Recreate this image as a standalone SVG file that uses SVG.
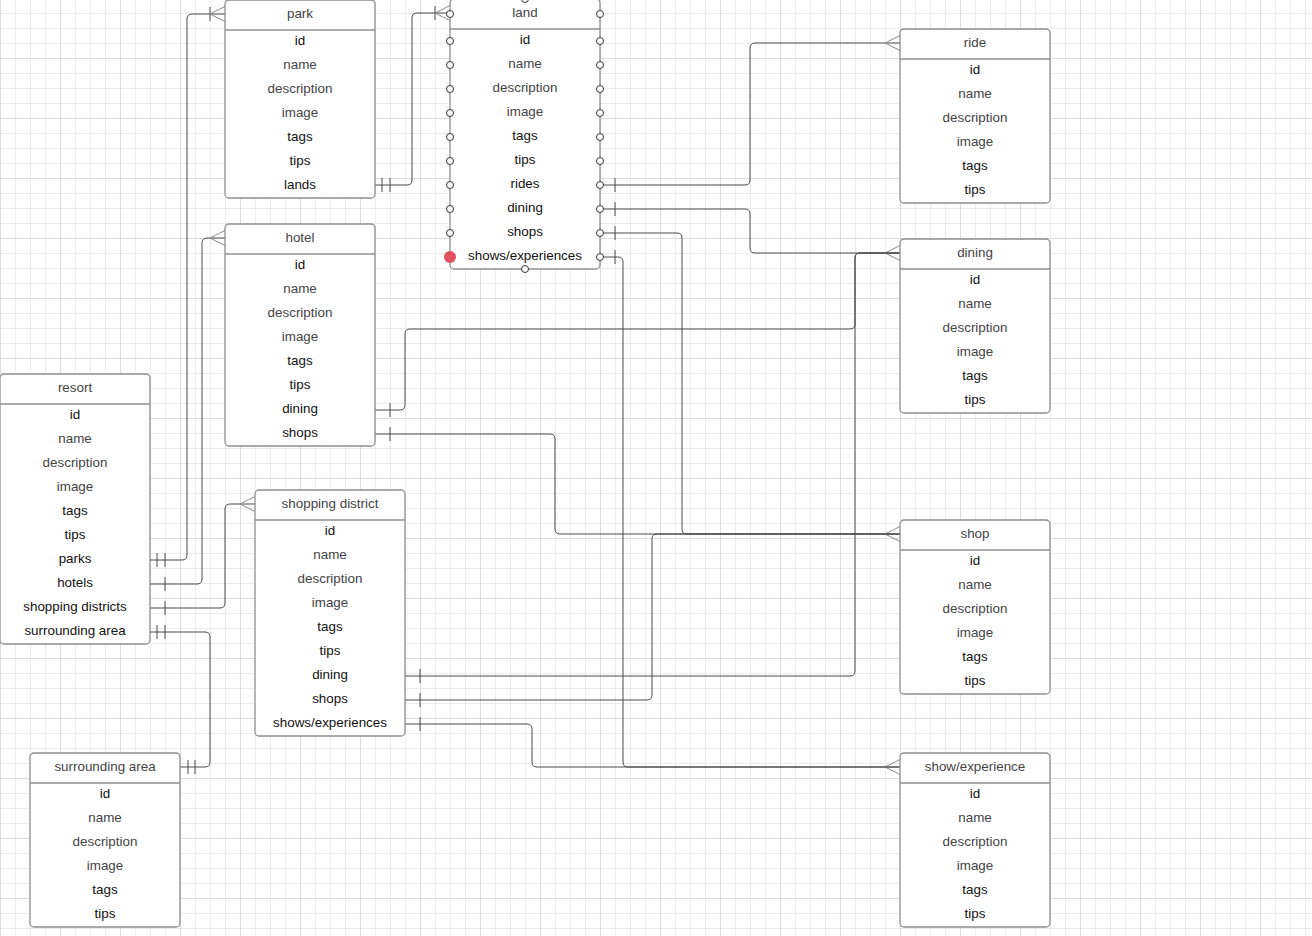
<svg xmlns="http://www.w3.org/2000/svg" width="1312" height="936" viewBox="0 0 1312 936">
<defs>
<pattern id="grid" patternUnits="userSpaceOnUse" x="0" y="-2" width="60" height="60">
<path d="M15.5 0V60M30.5 0V60M45.5 0V60M0 15.5H60M0 30.5H60M0 45.5H60" stroke="#ececec" stroke-width="1" fill="none"/>
<path d="M0.5 0V60M0 0.5H60" stroke="#dcdcdc" stroke-width="1" fill="none"/>
</pattern>
</defs>
<style>
.tbl{fill:#fff;stroke:#8f8f8f;stroke-width:1.3}
.sep{stroke:#8f8f8f;stroke-width:1.3}
text{font-family:"Liberation Sans",Arial,sans-serif;font-size:13.4px;text-anchor:middle;fill:#111}
.h,.g{fill:#444}
.c{fill:none;stroke:#4a4a4a;stroke-width:1}
.m{fill:none;stroke:#8a8a8a;stroke-width:1}
.b{fill:none;stroke:#4a4a4a;stroke-width:1}
.pt{fill:#fff;stroke:#333;stroke-width:1}
</style>
<rect width="1312" height="936" fill="#fff"/>
<rect width="1312" height="936" fill="url(#grid)"/>

<g id="connectors">
<!-- resort.parks -> park -->
<path class="c" d="M150,560 H182 Q187,560 187,555 V19 Q187,14 192,14 H225"/>
<path class="b" d="M157,553 V567 M165,553 V567"/>
<path class="b" d="M210,7 V21"/>
<path class="m" d="M225,6.5 L210,14 L225,21.5"/>
<!-- resort.hotels -> hotel -->
<path class="c" d="M150,584 H197 Q202,584 202,579 V243 Q202,238 207,238 H225"/>
<path class="b" d="M165,577 V591"/>
<path class="m" d="M225,230.5 L210,238 L225,245.5"/>
<!-- resort.shopping districts -> shopping district -->
<path class="c" d="M150,608 H220 Q225,608 225,603 V509 Q225,504 230,504 H255"/>
<path class="b" d="M165,601 V615"/>
<path class="m" d="M255,496.5 L240,504 L255,511.5"/>
<!-- resort.surrounding area -> surrounding area -->
<path class="c" d="M150,632 H205 Q210,632 210,637 V762 Q210,767 205,767 H180"/>
<path class="b" d="M157,625 V639 M165,625 V639"/>
<path class="b" d="M188,760 V774 M195,760 V774"/>
<!-- park.lands -> land -->
<path class="c" d="M375,185 H407 Q412,185 412,180 V18 Q412,13 417,13 H450"/>
<path class="b" d="M382,178 V192 M390,178 V192"/>
<path class="b" d="M435,6 V20"/>
<path class="m" d="M450,5.5 L435,13 L450,20.5"/>
<!-- land.rides -> ride -->
<path class="c" d="M600,185 H745 Q750,185 750,180 V48 Q750,43 755,43 H900"/>
<path class="b" d="M615,178 V192"/>
<path class="m" d="M900,35.5 L885,43 L900,50.5"/>
<!-- land.dining -> dining -->
<path class="c" d="M600,209 H745 Q750,209 750,214 V248 Q750,253 755,253 H900"/>
<path class="b" d="M615,202 V216"/>
<path class="m" d="M900,245.5 L885,253 L900,260.5"/>
<!-- land.shops -> shop -->
<path class="c" d="M600,233 H677 Q682,233 682,238 V529 Q682,534 687,534 H900"/>
<path class="b" d="M615,226 V240"/>
<path class="m" d="M900,526.5 L885,534 L900,541.5"/>
<!-- land.shows -> show/experience -->
<path class="c" d="M600,257 H618 Q623,257 623,262 V762 Q623,767 628,767 H900"/>
<path class="b" d="M615,250 V264"/>
<path class="m" d="M900,759.5 L885,767 L900,774.5"/>
<!-- hotel.dining -> dining -->
<path class="c" d="M375,410 H400 Q405,410 405,405 V334 Q405,329 410,329 H850 Q855,329 855,324 V258 Q855,253 860,253 H900"/>
<path class="b" d="M390,403 V417"/>
<!-- hotel.shops -> shop -->
<path class="c" d="M375,434 H550 Q555,434 555,439 V529 Q555,534 560,534 H900"/>
<path class="b" d="M390,427 V441"/>
<!-- shopping.dining -> dining -->
<path class="c" d="M405,676 H850 Q855,676 855,671 V258 Q855,253 860,253 H900"/>
<path class="b" d="M420,669 V683"/>
<!-- shopping.shops -> shop -->
<path class="c" d="M405,700 H647 Q652,700 652,695 V539 Q652,534 657,534 H900"/>
<path class="b" d="M420,693 V707"/>
<!-- shopping.shows -> show/experience -->
<path class="c" d="M405,724 H527 Q532,724 532,729 V762 Q532,767 537,767 H900"/>
<path class="b" d="M420,717 V731"/>
</g>

<g id="park">
<rect class="tbl" x="225" y="0" width="150" height="198" rx="4"/>
<line class="sep" x1="225" y1="30" x2="375" y2="30"/>
<text class="h" x="300" y="17.5">park</text>
<text x="300" y="44.5">id</text>
<text class="g" x="300" y="68.5">name</text>
<text class="g" x="300" y="92.5">description</text>
<text class="g" x="300" y="116.5">image</text>
<text x="300" y="140.5">tags</text>
<text x="300" y="164.5">tips</text>
<text x="300" y="188.5">lands</text>
</g>

<g id="land">
<rect class="tbl" x="450" y="-1" width="150" height="270" rx="4"/>
<line class="sep" x1="450" y1="29" x2="600" y2="29"/>
<text class="h" x="525" y="16.5">land</text>
<text x="525" y="43.5">id</text>
<text class="g" x="525" y="67.5">name</text>
<text class="g" x="525" y="91.5">description</text>
<text class="g" x="525" y="115.5">image</text>
<text x="525" y="139.5">tags</text>
<text x="525" y="163.5">tips</text>
<text x="525" y="187.5">rides</text>
<text x="525" y="211.5">dining</text>
<text x="525" y="235.5">shops</text>
<text x="525" y="259.5">shows/experiences</text>
<g id="land-points">
<circle class="pt" cx="525" cy="-1" r="3.5"/>
<circle class="pt" cx="525" cy="269" r="3.5"/>
<circle class="pt" cx="450" cy="14" r="3.5"/>
<circle class="pt" cx="450" cy="41" r="3.5"/>
<circle class="pt" cx="450" cy="65" r="3.5"/>
<circle class="pt" cx="450" cy="89" r="3.5"/>
<circle class="pt" cx="450" cy="113" r="3.5"/>
<circle class="pt" cx="450" cy="137" r="3.5"/>
<circle class="pt" cx="450" cy="161" r="3.5"/>
<circle class="pt" cx="450" cy="185" r="3.5"/>
<circle class="pt" cx="450" cy="209" r="3.5"/>
<circle class="pt" cx="450" cy="233" r="3.5"/>
<circle cx="450" cy="257" r="6" fill="#e2505f"/>
<circle class="pt" cx="600" cy="14" r="3.5"/>
<circle class="pt" cx="600" cy="41" r="3.5"/>
<circle class="pt" cx="600" cy="65" r="3.5"/>
<circle class="pt" cx="600" cy="89" r="3.5"/>
<circle class="pt" cx="600" cy="113" r="3.5"/>
<circle class="pt" cx="600" cy="137" r="3.5"/>
<circle class="pt" cx="600" cy="161" r="3.5"/>
<circle class="pt" cx="600" cy="185" r="3.5"/>
<circle class="pt" cx="600" cy="209" r="3.5"/>
<circle class="pt" cx="600" cy="233" r="3.5"/>
<circle class="pt" cx="600" cy="257" r="3.5"/>
</g>
</g>

<g id="hotel">
<rect class="tbl" x="225" y="224" width="150" height="222" rx="4"/>
<line class="sep" x1="225" y1="254" x2="375" y2="254"/>
<text class="h" x="300" y="241.5">hotel</text>
<text x="300" y="268.5">id</text>
<text class="g" x="300" y="292.5">name</text>
<text class="g" x="300" y="316.5">description</text>
<text class="g" x="300" y="340.5">image</text>
<text x="300" y="364.5">tags</text>
<text x="300" y="388.5">tips</text>
<text x="300" y="412.5">dining</text>
<text x="300" y="436.5">shops</text>
</g>

<g id="resort">
<rect class="tbl" x="0" y="374" width="150" height="270" rx="4"/>
<line class="sep" x1="0" y1="404" x2="150" y2="404"/>
<text class="h" x="75" y="391.5">resort</text>
<text x="75" y="418.5">id</text>
<text class="g" x="75" y="442.5">name</text>
<text class="g" x="75" y="466.5">description</text>
<text class="g" x="75" y="490.5">image</text>
<text x="75" y="514.5">tags</text>
<text x="75" y="538.5">tips</text>
<text x="75" y="562.5">parks</text>
<text x="75" y="586.5">hotels</text>
<text x="75" y="610.5">shopping districts</text>
<text x="75" y="634.5">surrounding area</text>
</g>

<g id="shopping-district">
<rect class="tbl" x="255" y="490" width="150" height="246" rx="4"/>
<line class="sep" x1="255" y1="520" x2="405" y2="520"/>
<text class="h" x="330" y="507.5">shopping district</text>
<text x="330" y="534.5">id</text>
<text class="g" x="330" y="558.5">name</text>
<text class="g" x="330" y="582.5">description</text>
<text class="g" x="330" y="606.5">image</text>
<text x="330" y="630.5">tags</text>
<text x="330" y="654.5">tips</text>
<text x="330" y="678.5">dining</text>
<text x="330" y="702.5">shops</text>
<text x="330" y="726.5">shows/experiences</text>
</g>

<g id="surrounding-area">
<rect class="tbl" x="30" y="753" width="150" height="174" rx="4"/>
<line class="sep" x1="30" y1="783" x2="180" y2="783"/>
<text class="h" x="105" y="770.5">surrounding area</text>
<text x="105" y="797.5">id</text>
<text class="g" x="105" y="821.5">name</text>
<text class="g" x="105" y="845.5">description</text>
<text class="g" x="105" y="869.5">image</text>
<text x="105" y="893.5">tags</text>
<text x="105" y="917.5">tips</text>
</g>

<g id="ride">
<rect class="tbl" x="900" y="29" width="150" height="174" rx="4"/>
<line class="sep" x1="900" y1="59" x2="1050" y2="59"/>
<text class="h" x="975" y="46.5">ride</text>
<text x="975" y="73.5">id</text>
<text class="g" x="975" y="97.5">name</text>
<text class="g" x="975" y="121.5">description</text>
<text class="g" x="975" y="145.5">image</text>
<text x="975" y="169.5">tags</text>
<text x="975" y="193.5">tips</text>
</g>

<g id="dining">
<rect class="tbl" x="900" y="239" width="150" height="174" rx="4"/>
<line class="sep" x1="900" y1="269" x2="1050" y2="269"/>
<text class="h" x="975" y="256.5">dining</text>
<text x="975" y="283.5">id</text>
<text class="g" x="975" y="307.5">name</text>
<text class="g" x="975" y="331.5">description</text>
<text class="g" x="975" y="355.5">image</text>
<text x="975" y="379.5">tags</text>
<text x="975" y="403.5">tips</text>
</g>

<g id="shop">
<rect class="tbl" x="900" y="520" width="150" height="174" rx="4"/>
<line class="sep" x1="900" y1="550" x2="1050" y2="550"/>
<text class="h" x="975" y="537.5">shop</text>
<text x="975" y="564.5">id</text>
<text class="g" x="975" y="588.5">name</text>
<text class="g" x="975" y="612.5">description</text>
<text class="g" x="975" y="636.5">image</text>
<text x="975" y="660.5">tags</text>
<text x="975" y="684.5">tips</text>
</g>

<g id="show-experience">
<rect class="tbl" x="900" y="753" width="150" height="174" rx="4"/>
<line class="sep" x1="900" y1="783" x2="1050" y2="783"/>
<text class="h" x="975" y="770.5">show/experience</text>
<text x="975" y="797.5">id</text>
<text class="g" x="975" y="821.5">name</text>
<text class="g" x="975" y="845.5">description</text>
<text class="g" x="975" y="869.5">image</text>
<text x="975" y="893.5">tags</text>
<text x="975" y="917.5">tips</text>
</g>
</svg>
